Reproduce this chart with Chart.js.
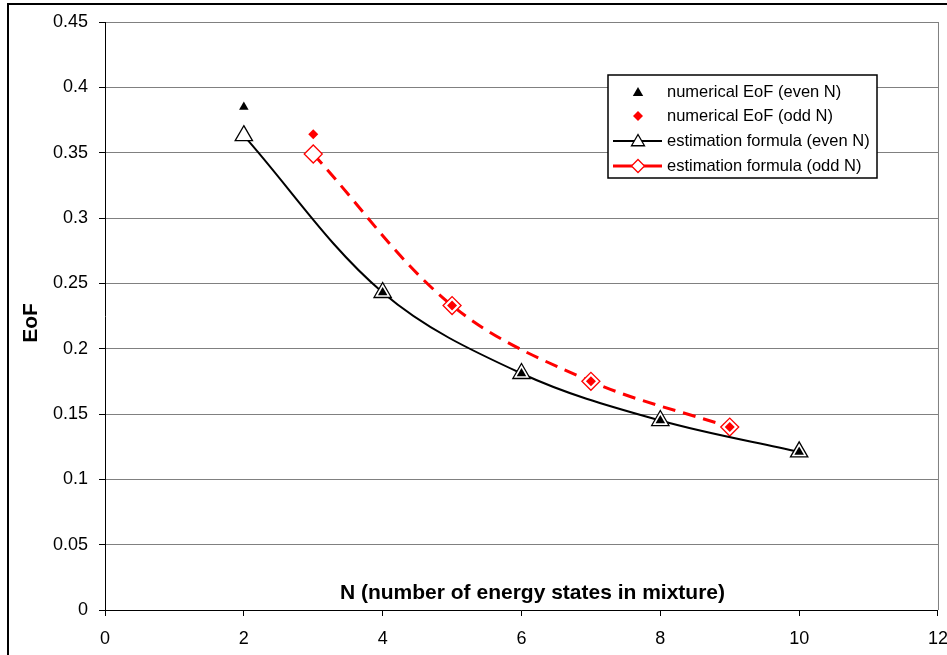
<!DOCTYPE html>
<html>
<head>
<meta charset="utf-8">
<script src="https://cdn.jsdelivr.net/npm/chart.js@4.4.1/dist/chart.umd.min.js"></script>
<style>
  html, body { margin: 0; padding: 0; background: #fff; overflow: hidden; }
  #wrap { width: 947px; height: 655px; overflow: hidden; }
</style>
</head>
<body>
<div id="wrap"><canvas id="chartEoF" width="960" height="655"></canvas></div>
<script>
// values
const evenN = [2, 4, 6, 8, 10]
const numericalEven = [0.385, 0.243, 0.181, 0.145, 0.121]
const formulaEven = [0.363, 0.243, 0.181, 0.145, 0.121]

const oddN = [3, 5, 7, 9]
const numericalOdd = [0.364, 0.233, 0.175, 0.140]
const formulaOdd = [0.349, 0.233, 0.175, 0.140]

const xTitle = 'N (number of energy states in mixture)'
const yTitle = 'EoF'

const FONT = "'Liberation Sans', Arial, sans-serif"

function toPoints(xs, ys) {
  return xs.map((x, i) => ({ x: x, y: ys[i] }))
}

// little shapes for the legend
function triangle(ctx, x, y, r) {
  ctx.beginPath()
  ctx.moveTo(x, y - r)
  ctx.lineTo(x + r * 0.866, y + r / 2)
  ctx.lineTo(x - r * 0.866, y + r / 2)
  ctx.closePath()
}

function diamond(ctx, x, y, r) {
  ctx.beginPath()
  ctx.moveTo(x, y - r)
  ctx.lineTo(x + r, y)
  ctx.lineTo(x, y + r)
  ctx.lineTo(x - r, y)
  ctx.closePath()
}

const decorations = {
  id: 'decorations',
  beforeDraw(chart) {
    const ctx = chart.ctx
    ctx.save()
    ctx.fillStyle = '#fff'
    ctx.fillRect(0, 0, chart.width, chart.height)
    ctx.restore()
  },
  afterDraw(chart) {
    const ctx = chart.ctx
    const area = chart.chartArea
    ctx.save()

    // outer frame
    ctx.strokeStyle = '#000'
    ctx.lineWidth = 2
    ctx.strokeRect(8, 4, 2000, 2000)

    // right edge of the plot area
    ctx.strokeStyle = '#808080'
    ctx.lineWidth = 1
    ctx.beginPath()
    ctx.moveTo(area.right + 0.5, area.top)
    ctx.lineTo(area.right + 0.5, area.bottom)
    ctx.stroke()

    // axis titles
    ctx.fillStyle = '#000'
    ctx.font = 'bold 21px ' + FONT
    ctx.textAlign = 'center'
    ctx.textBaseline = 'middle'
    ctx.fillText(xTitle, (area.left + area.right) / 2 + 11, area.bottom - 17)

    ctx.save()
    ctx.translate(31, 323)
    ctx.rotate(-Math.PI / 2)
    ctx.fillText(yTitle, 0, 0)
    ctx.restore()

    // legend
    const box = { x: 608, y: 75, w: 269, h: 103 }
    const rows = [92, 116, 141, 166]
    ctx.fillStyle = '#fff'
    ctx.fillRect(box.x, box.y, box.w, box.h)
    ctx.strokeStyle = '#000'
    ctx.lineWidth = 1.5
    ctx.strokeRect(box.x, box.y, box.w, box.h)

    ctx.font = '16.5px ' + FONT
    ctx.textAlign = 'left'
    chart.data.datasets.forEach((ds, i) => {
      const y = rows[i]
      const mx = 638
      if (ds.showLine) {
        ctx.strokeStyle = ds.borderColor
        ctx.lineWidth = ds.borderWidth
        ctx.beginPath()
        ctx.moveTo(613, y)
        ctx.lineTo(662, y)
        ctx.stroke()
      }
      const r = ds.legendRadius
      if (ds.pointStyle === 'triangle') triangle(ctx, mx, y + 1, r)
      else diamond(ctx, mx, y, r)
      ctx.fillStyle = ds.pointBackgroundColor
      ctx.fill()
      if (ds.pointBorderWidth) {
        ctx.strokeStyle = ds.pointBorderColor
        ctx.lineWidth = ds.pointBorderWidth
        ctx.stroke()
      }
      ctx.fillStyle = '#000'
      ctx.fillText(ds.label, 667, y)
    })

    ctx.restore()
  }
}

const chartEoF = new Chart(document.getElementById('chartEoF'), {
  type: 'line',
  data: {
    datasets: [{
      label: 'numerical EoF (even N)',
      data: toPoints(evenN, numericalEven),
      showLine: false,
      pointStyle: 'triangle',
      pointRadius: 5.5,
      pointBackgroundColor: '#000',
      pointBorderColor: '#000',
      pointBorderWidth: 0,
      legendRadius: 6
    }, {
      label: 'numerical EoF (odd N)',
      data: toPoints(oddN, numericalOdd),
      showLine: false,
      pointStyle: 'rectRot',
      pointRadius: 5,
      pointBackgroundColor: '#ff0000',
      pointBorderColor: '#ff0000',
      pointBorderWidth: 0,
      legendRadius: 5
    }, {
      label: 'estimation formula (even N)',
      data: toPoints(evenN, formulaEven),
      showLine: true,
      borderColor: '#000',
      borderWidth: 2,
      tension: 0.35,
      pointStyle: 'triangle',
      pointRadius: 10,
      pointBackgroundColor: '#fff',
      pointBorderColor: '#000',
      pointBorderWidth: 1.3,
      legendRadius: 7.5
    }, {
      label: 'estimation formula (odd N)',
      data: toPoints(oddN, formulaOdd),
      showLine: true,
      borderColor: '#ff0000',
      borderWidth: 3,
      borderDash: [13, 8],
      tension: 0.35,
      pointStyle: 'rectRot',
      pointRadius: 9,
      pointBackgroundColor: '#fff',
      pointBorderColor: '#ff0000',
      pointBorderWidth: 1.3,
      legendRadius: 6.5
    }]
  },
  options: {
    responsive: false,
    animation: false,
    layout: { padding: { top: 22, right: 22, left: 0, bottom: 0 } },
    plugins: {
      legend: { display: false },
      tooltip: { enabled: false }
    },
    scales: {
      x: {
        type: 'linear',
        min: 0,
        max: 12,
        ticks: { stepSize: 2, color: '#000', padding: 12, font: { family: FONT, size: 18 } },
        grid: { drawOnChartArea: false, tickLength: 6, tickColor: '#000', color: '#000' },
        border: { color: '#000', width: 1 },
        afterFit: (scale) => { scale.height = 45 }
      },
      y: {
        min: 0,
        max: 0.45,
        ticks: {
          stepSize: 0.05,
          color: '#000',
          padding: 11,
          font: { family: FONT, size: 18 },
          callback: (v) => String(Math.round(v * 100) / 100)
        },
        grid: { color: '#808080', tickLength: 6, tickColor: '#000' },
        border: { color: '#000', width: 1 },
        afterFit: (scale) => { scale.width = 105 }
      }
    }
  },
  plugins: [decorations]
})
</script>
</body>
</html>
